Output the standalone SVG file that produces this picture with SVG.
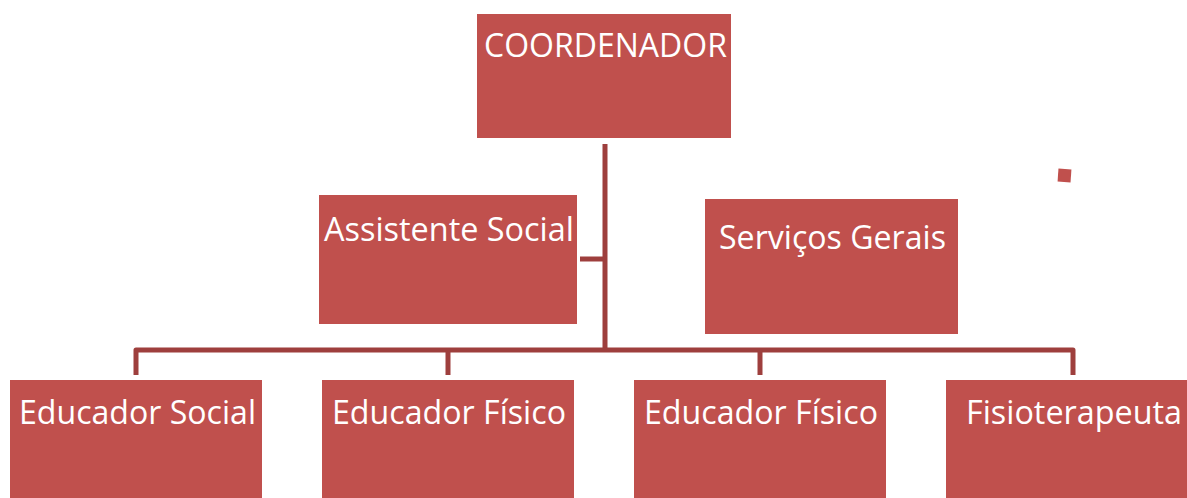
<svg xmlns="http://www.w3.org/2000/svg" width="1187" height="498" viewBox="0 0 1187 498">
<style>
.box{fill:#C0504D;}
.lbl{font-family:"Open Sans","Noto Sans",sans-serif;font-size:33px;fill:#FFFFFF;}
.con{fill:none;stroke:#9E3F3D;stroke-width:5;stroke-linejoin:round;}
</style>
<rect width="1187" height="498" fill="#FFFFFF"/>
<g id="connectors">
<path class="con" d="M605,144 V350"/>
<path class="con" d="M580,259 H605"/>
<path class="con" d="M136,375 V350 H1073 V375"/>
<path class="con" d="M448,350 V375"/>
<path class="con" d="M760,350 V375"/>
</g>
<g id="coordenador">
<rect class="box" x="477" y="14" width="254" height="124"/>
<text class="lbl" x="484" y="57" textLength="243" lengthAdjust="spacingAndGlyphs">COORDENADOR</text>
</g>
<g id="assistente-social">
<rect class="box" x="319" y="195" width="258" height="129"/>
<text class="lbl" x="324" y="241" textLength="250" lengthAdjust="spacingAndGlyphs">Assistente Social</text>
</g>
<g id="servicos-gerais">
<rect class="box" x="705" y="199" width="253" height="135"/>
<text class="lbl" x="719" y="249" textLength="227" lengthAdjust="spacingAndGlyphs">Serviços Gerais</text>
</g>
<g id="marker-square">
<rect class="box" x="1058" y="169" width="13" height="13" transform="rotate(4 1064.5 175.5)"/>
</g>
<g id="educador-social">
<rect class="box" x="10" y="380" width="252" height="118"/>
<text class="lbl" x="19" y="424" textLength="237" lengthAdjust="spacingAndGlyphs">Educador Social</text>
</g>
<g id="educador-fisico-1">
<rect class="box" x="322" y="380" width="252" height="118"/>
<text class="lbl" x="332" y="424" textLength="234" lengthAdjust="spacingAndGlyphs">Educador Físico</text>
</g>
<g id="educador-fisico-2">
<rect class="box" x="634" y="380" width="252" height="118"/>
<text class="lbl" x="644" y="424" textLength="234" lengthAdjust="spacingAndGlyphs">Educador Físico</text>
</g>
<g id="fisioterapeuta">
<rect class="box" x="946" y="380" width="252" height="118"/>
<text class="lbl" x="966" y="424" textLength="216" lengthAdjust="spacingAndGlyphs">Fisioterapeuta</text>
</g>
</svg>
